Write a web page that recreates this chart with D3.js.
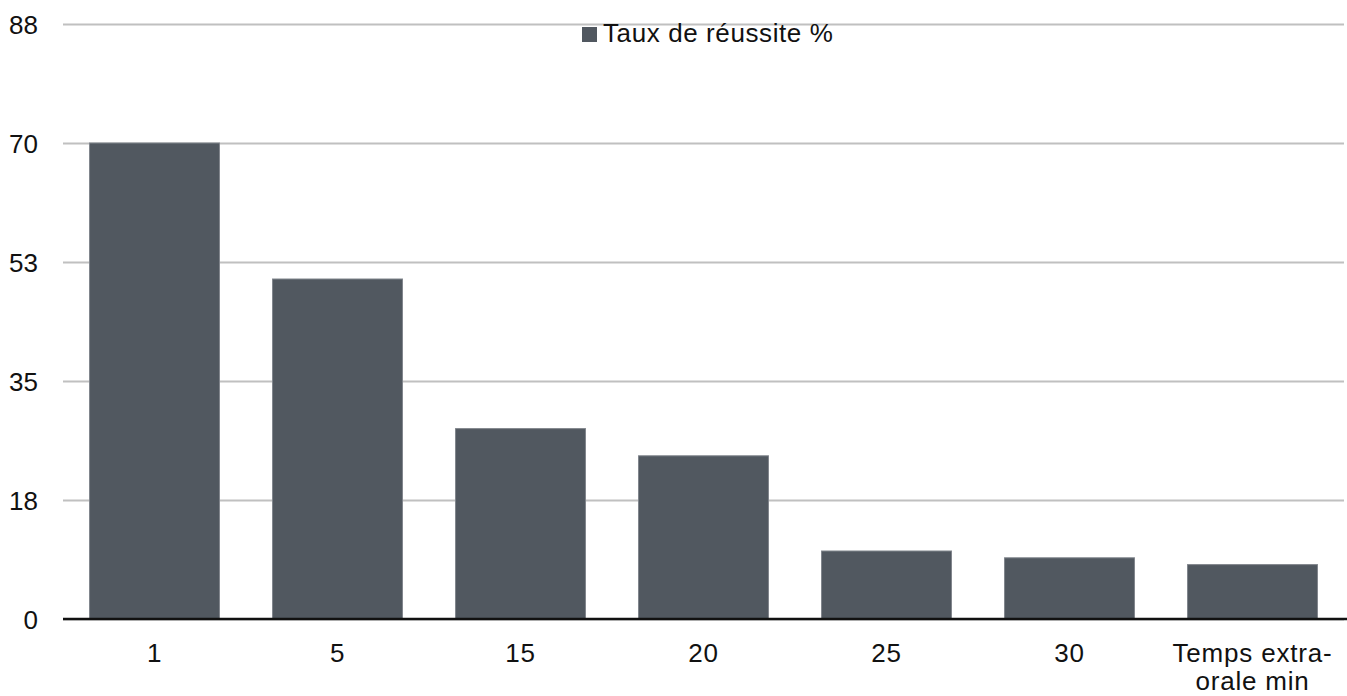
<!DOCTYPE html>
<html>
<head>
<meta charset="utf-8">
<script src="https://cdn.jsdelivr.net/npm/d3@7"></script>
<style>
  body { margin: 0; background: #fff; }
  svg text { font-family: "Liberation Sans", Arial, Helvetica, sans-serif; fill: #111; }
</style>
</head>
<body>
<div id="chart"></div>
<script>
// data
var categories = ["1", "5", "15", "20", "25", "30", "Temps extra-\norale min"];
var values = [70, 50, 28, 24, 10, 9, 8];
var tickValues = [0, 17.5, 35, 52.5, 70, 87.5];
var tickLabels = ["0", "18", "35", "53", "70", "88"];
var seriesName = "Taux de réussite %";

var width = 1347,
  height = 696;
var margin = { top: 24, right: 3, bottom: 77, left: 63 };

var svg = d3
  .select("#chart")
  .append("svg")
  .attr("width", width)
  .attr("height", height);

var x = d3
  .scaleBand()
  .domain(categories)
  .range([margin.left, width - margin.right])
  .paddingInner(0.29)
  .paddingOuter(0.145);

var y = d3
  .scaleLinear()
  .domain([0, 87.5])
  .range([height - margin.bottom, margin.top]);

// gridlines + y labels
var yAxis = d3
  .axisLeft(y)
  .tickValues(tickValues)
  .tickSize(-(width - margin.left - margin.right))
  .tickPadding(25)
  .tickFormat((d, i) => tickLabels[i]);

var gy = svg
  .append("g")
  .attr("transform", "translate(" + margin.left + ",0)")
  .call(yAxis);

gy.select(".domain").remove();
gy.selectAll(".tick line")
  .attr("stroke", "#c0c0c0")
  .attr("stroke-width", 2);
gy.selectAll(".tick text")
  .style("font-size", "26px")
  .attr("dy", "0.36em");

// bars
svg
  .append("g")
  .selectAll("rect")
  .data(values)
  .enter()
  .append("rect")
  .attr("x", (d, i) => x(categories[i]))
  .attr("y", (d) => y(d))
  .attr("width", x.bandwidth())
  .attr("height", (d) => y(0) - y(d))
  .attr("fill", "#515860")
  .attr("stroke", "#80858c")
  .attr("stroke-width", 1);

// x axis
var gx = svg
  .append("g")
  .attr("transform", "translate(0," + y(0) + ")")
  .call(d3.axisBottom(x).tickSize(0).tickFormat(""));

gx.select(".domain")
  .attr("stroke", "#111")
  .attr("stroke-width", 2.5)
  .attr("d", "M" + margin.left + ",0H" + width);

gx.selectAll(".tick").each(function (d) {
  var lines = d.split("\n");
  var t = d3
    .select(this)
    .append("text")
    .attr("text-anchor", "middle")
    .style("font-size", "26px")
    .style("letter-spacing", "0.8px")
    .attr("fill", "#111");
  lines.forEach((l, k) => {
    t.append("tspan")
      .attr("x", 0)
      .attr("y", 43 + k * 28)
      .text(l);
  });
});

// legend
var legend = svg.append("g").attr("transform", "translate(582,27)");
legend
  .append("rect")
  .attr("width", 15)
  .attr("height", 15)
  .attr("fill", "#515860");
legend
  .append("text")
  .attr("x", 21)
  .attr("y", 15)
  .style("font-size", "26px")
  .style("letter-spacing", "0.6px")
  .text(seriesName);
</script>
</body>
</html>
